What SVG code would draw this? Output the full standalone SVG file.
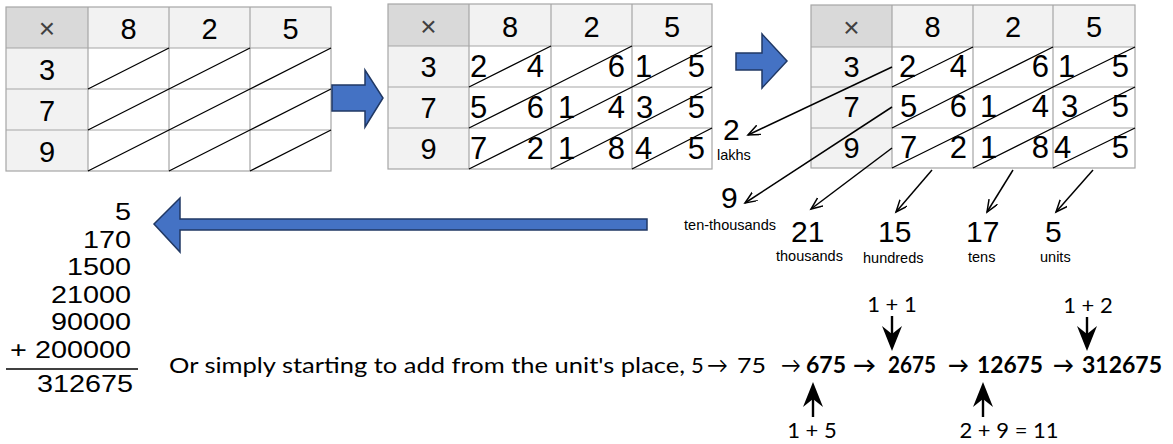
<svg xmlns="http://www.w3.org/2000/svg" width="1173" height="444" viewBox="0 0 1173 444">
<defs>
<style>
.hdr{fill:#f2f2f2}
.corner{fill:#d9d9d9}
.body{fill:#ffffff}
.grid{fill:none;stroke:#a6a6a6;stroke-width:1.2}
.diag{fill:none;stroke:#000;stroke-width:1.3}
.hd{font-family:"Liberation Sans",Arial,sans-serif;font-size:29px;fill:#000;text-anchor:middle}
.x{font-family:"Liberation Sans",Arial,sans-serif;font-size:28px;fill:#404040;text-anchor:middle}
.cd{font-family:"Liberation Sans",Arial,sans-serif;font-size:31px;fill:#000}
.end{text-anchor:end}
.big{font-family:"Liberation Sans",Arial,sans-serif;font-size:30px;fill:#000}
.lab{font-family:"Liberation Sans",Arial,sans-serif;font-size:14.5px;fill:#000}
.blk{fill:#4472c4;stroke:#203864;stroke-width:1.5}
.conn{fill:none;stroke:#000;stroke-width:1.5}
.col{font-family:"Liberation Sans",Arial,sans-serif;font-size:24px;fill:#000;text-anchor:end}
.cal{font-family:Lato,"Open Sans",sans-serif;font-size:22px;fill:#000}
.b{font-weight:bold}
.varr{fill:none;stroke:#000;stroke-width:2.4}
</style>
<marker id="open" markerUnits="userSpaceOnUse" markerWidth="16" markerHeight="14" refX="12" refY="5" orient="auto">
<path d="M0,0 L12,5 L0,10" fill="none" stroke="#000" stroke-width="1.5"/>
</marker>
</defs>

<g id="table1">
<rect class="corner" x="6" y="7" width="82" height="41"/>
<rect class="hdr" x="88" y="7" width="243" height="41"/>
<rect class="hdr" x="6" y="48" width="82" height="123"/>
<rect class="body" x="88" y="48" width="243" height="123"/>
<rect class="grid" x="6" y="7" width="325" height="164"/>
<path class="grid" d="M88,7V171M169,7V171M250,7V171M6,48H331M6,89H331M6,130H331"/>
<path class="diag" d="M88,89L169,48M169,89L250,48M250,89L331,48M88,130L169,89M169,130L250,89M250,130L331,89M88,171L169,130M169,171L250,130M250,171L331,130"/>
<text class="x" x="47" y="38">×</text>
<text class="hd" x="128.5" y="39">8</text>
<text class="hd" x="209.5" y="39">2</text>
<text class="hd" x="290.5" y="39">5</text>
<text class="hd" x="47" y="80">3</text>
<text class="hd" x="47" y="121">7</text>
<text class="hd" x="47" y="162">9</text>
</g>

<g id="arrow1">
<path class="blk" d="M332,85H365V70L383,98L365,127V111H332Z"/>
</g>

<g id="table2">
<rect class="corner" x="388" y="4" width="81" height="42"/>
<rect class="hdr" x="469" y="4" width="243" height="42"/>
<rect class="hdr" x="388" y="46" width="81" height="123"/>
<rect class="body" x="469" y="46" width="243" height="123"/>
<rect class="grid" x="388" y="4" width="324" height="165"/>
<path class="grid" d="M469,4V169M551,4V169M632,4V169M388,46H712M388,87H712M388,128H712"/>
<path class="diag" d="M469,87L551,46M551,87L632,46M632,87L712,46M469,128L551,87M551,128L632,87M632,128L712,87M469,169L551,128M551,169L632,128M632,169L712,128"/>
<text class="x" x="428.5" y="36">×</text>
<text class="hd" x="510" y="37">8</text>
<text class="hd" x="591.5" y="37">2</text>
<text class="hd" x="672" y="37">5</text>
<text class="hd" x="428.5" y="77">3</text>
<text class="hd" x="428.5" y="118">7</text>
<text class="hd" x="428.5" y="159">9</text>
<text class="cd" x="470" y="77">2</text><text class="cd end" x="544" y="77">4</text>
<text class="cd end" x="625" y="77">6</text>
<text class="cd" x="635" y="77">1</text><text class="cd end" x="705" y="77">5</text>
<text class="cd" x="470" y="118">5</text><text class="cd end" x="544" y="118">6</text>
<text class="cd" x="558" y="118">1</text><text class="cd end" x="625" y="118">4</text>
<text class="cd" x="636" y="118">3</text><text class="cd end" x="705" y="118">5</text>
<text class="cd" x="470" y="159">7</text><text class="cd end" x="544" y="159">2</text>
<text class="cd" x="558" y="159">1</text><text class="cd end" x="625" y="159">8</text>
<text class="cd" x="635" y="159">4</text><text class="cd end" x="705" y="159">5</text>
</g>

<g id="arrow2">
<path class="blk" d="M736,53H762V34L787,61L762,88V70H736Z"/>
</g>

<g id="table3">
<rect class="corner" x="811" y="5" width="81" height="42"/>
<rect class="hdr" x="892" y="5" width="243" height="42"/>
<rect class="hdr" x="811" y="47" width="81" height="121"/>
<rect class="body" x="892" y="47" width="243" height="121"/>
<rect class="grid" x="811" y="5" width="324" height="163"/>
<path class="grid" d="M892,5V168M973,5V168M1053,5V168M811,47H1135M811,87H1135M811,128H1135"/>
<path class="diag" d="M892,87L973,47M973,87L1053,47M1053,87L1135,47M892,128L973,87M973,128L1053,87M1053,128L1135,87M892,168L973,128M973,168L1053,128M1053,168L1135,128"/>
<text class="x" x="851.5" y="37">×</text>
<text class="hd" x="932.5" y="37">8</text>
<text class="hd" x="1013" y="37">2</text>
<text class="hd" x="1094" y="37">5</text>
<text class="hd" x="851.5" y="77">3</text>
<text class="hd" x="851.5" y="117">7</text>
<text class="hd" x="851.5" y="158">9</text>
<text class="cd" x="899" y="77">2</text><text class="cd end" x="967" y="77">4</text>
<text class="cd end" x="1049" y="77">6</text>
<text class="cd" x="1058" y="77">1</text><text class="cd end" x="1129" y="77">5</text>
<text class="cd" x="900" y="117">5</text><text class="cd end" x="967" y="117">6</text>
<text class="cd" x="980" y="117">1</text><text class="cd end" x="1049" y="117">4</text>
<text class="cd" x="1061" y="117">3</text><text class="cd end" x="1129" y="117">5</text>
<text class="cd" x="900" y="158">7</text><text class="cd end" x="967" y="158">2</text>
<text class="cd" x="980" y="158">1</text><text class="cd end" x="1049" y="158">8</text>
<text class="cd" x="1054" y="158">4</text><text class="cd end" x="1129" y="158">5</text>
</g>

<g id="connectors">
<line class="conn" x1="892" y1="67" x2="748" y2="135" marker-end="url(#open)"/>
<line class="conn" x1="892" y1="107" x2="745" y2="203" marker-end="url(#open)"/>
<line class="conn" x1="892" y1="148" x2="811" y2="209" marker-end="url(#open)"/>
<line class="conn" x1="932" y1="170" x2="896" y2="212" marker-end="url(#open)"/>
<line class="conn" x1="1013" y1="170" x2="987" y2="212" marker-end="url(#open)"/>
<line class="conn" x1="1093" y1="170" x2="1056" y2="212" marker-end="url(#open)"/>
</g>

<g id="lakhs"><text class="big" x="723" y="140">2</text><text class="lab" x="717" y="160">lakhs</text></g>
<g id="tenthousands"><text class="big" x="721" y="208">9</text><text class="lab" x="776" y="230" text-anchor="end">ten-thousands</text></g>
<g id="thousands"><text class="big" x="791" y="242">21</text><text class="lab" x="776" y="261">thousands</text></g>
<g id="hundreds"><text class="big" x="878" y="242">15</text><text class="lab" x="863" y="263">hundreds</text></g>
<g id="tens"><text class="big" x="966" y="242">17</text><text class="lab" x="968" y="262">tens</text></g>
<g id="units"><text class="big" x="1045" y="242">5</text><text class="lab" x="1040" y="262">units</text></g>

<g id="bigarrow">
<path class="blk" d="M647,219V230H180V252L154,224L180,198V219Z"/>
</g>

<g id="sum">
<text class="col" transform="translate(131,220) scale(1.2,1)">5</text>
<text class="col" transform="translate(131,247.6) scale(1.2,1)">170</text>
<text class="col" transform="translate(131,275.2) scale(1.2,1)">1500</text>
<text class="col" transform="translate(131,302.8) scale(1.2,1)">21000</text>
<text class="col" transform="translate(131,330.4) scale(1.2,1)">90000</text>
<text class="col" transform="translate(131,358) scale(1.2,1)">+ 200000</text>
<line x1="6" y1="369" x2="138" y2="369" stroke="#000" stroke-width="1.5"/>
<text class="col" transform="translate(133,392) scale(1.2,1)">312675</text>
</g>

<g id="sentence">
<text class="cal" x="169" y="373" textLength="516" lengthAdjust="spacingAndGlyphs">Or simply starting to add from the unit's place,</text>
<text class="cal" x="691" y="373">5</text>
<text class="cal" x="707" y="373" textLength="21" lengthAdjust="spacingAndGlyphs">→</text>
<text class="cal" x="737" y="373" textLength="29" lengthAdjust="spacingAndGlyphs">75</text>
<text class="cal" x="781" y="373" textLength="20" lengthAdjust="spacingAndGlyphs">→</text>
<text class="cal b" x="806" y="373" textLength="40" lengthAdjust="spacingAndGlyphs">675</text>
<text class="cal b" x="853" y="373" textLength="23" lengthAdjust="spacingAndGlyphs">→</text>
<text class="cal b" x="888" y="373" textLength="48" lengthAdjust="spacingAndGlyphs">2675</text>
<text class="cal b" x="948" y="373" textLength="21" lengthAdjust="spacingAndGlyphs">→</text>
<text class="cal b" x="977" y="373" textLength="66" lengthAdjust="spacingAndGlyphs">12675</text>
<text class="cal b" x="1053" y="373" textLength="21" lengthAdjust="spacingAndGlyphs">→</text>
<text class="cal b" x="1082" y="373" textLength="80" lengthAdjust="spacingAndGlyphs">312675</text>
</g>

<g id="note-1plus1">
<text class="cal" x="892" y="312" text-anchor="middle">1 + 1</text>
<line class="varr" x1="892" y1="316" x2="892" y2="338"/>
<path d="M892,351L882,326L892,334L902,326Z" fill="#000"/>
</g>
<g id="note-1plus2">
<text class="cal" x="1088" y="313" text-anchor="middle">1 + 2</text>
<line class="varr" x1="1087" y1="317" x2="1087" y2="338"/>
<path d="M1087,351L1077,326L1087,334L1097,326Z" fill="#000"/>
</g>
<g id="note-1plus5">
<text class="cal" x="812" y="438" text-anchor="middle">1 + 5</text>
<line class="varr" x1="813" y1="417" x2="813" y2="395"/>
<path d="M813,382L803,407L813,399L823,407Z" fill="#000"/>
</g>
<g id="note-2plus9">
<text class="cal" x="1009" y="438" text-anchor="middle">2 + 9 = 11</text>
<line class="varr" x1="983" y1="417" x2="983" y2="395"/>
<path d="M983,382L973,407L983,399L993,407Z" fill="#000"/>
</g>
</svg>
